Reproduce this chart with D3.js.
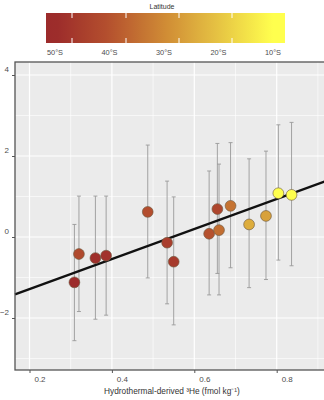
<!DOCTYPE html>
<html><head><meta charset="utf-8">
<script src="https://cdn.jsdelivr.net/npm/d3@7"></script>
<style>
html,body{margin:0;padding:0;background:#fff;overflow:hidden}
text{font-family:"Liberation Sans",Arial,sans-serif}
</style></head>
<body><svg id="c" width="324" height="400"></svg>
<script>
// ---- data ----
const helium   = [0.309,0.320,0.360,0.386,0.487,0.534,0.550,0.636,0.656,0.660,0.688,0.733,0.774,0.804,0.836];
const anomaly  = [-1.12,-0.42,-0.52,-0.46,0.62,-0.14,-0.61,0.08,0.69,0.17,0.77,0.31,0.52,1.08,1.04];
const errLow   = [-2.56,-1.84,-2.03,-1.93,-1.01,-1.65,-2.17,-1.43,-0.90,-1.43,-0.76,-1.25,-1.05,-0.57,-0.71];
const errHigh  = [0.31,1.01,1.01,1.01,2.27,1.38,0.99,1.63,2.31,1.80,2.33,1.93,2.12,2.77,2.83];
const latitude = [50,42,49,48,41,45,46,40,43,35,34,24,26,10,10];
const fitX = [0.1648,0.93];
const fitY = [-1.415,1.421];
const xTicks = [0.2,0.4,0.6,0.8];
const xMinor = [0.3,0.5,0.7,0.9];
const yTicks = [-2,0,2,4];
const yMinor = [-3,-1,1,3];
const latTicks = [50,40,30,20,10];
const latColors = ["#9c2b2b","#b5512e","#cf8a35","#e6c443","#ffff4e"];

const svg = d3.select("#c");
const L=15, R=334, T=62, B=370;
const x = d3.scaleLinear().domain([0.2,0.8]).range([29.5,276.7]);
const y = d3.scaleLinear().domain([-2,4]).range([318,75]);

// panel
svg.append("rect").attr("x",L).attr("y",T).attr("width",R-L).attr("height",B-T).attr("fill","#ebebeb");
const g = svg.append("g");
xMinor.forEach(v=>g.append("line").attr("x1",x(v)).attr("x2",x(v)).attr("y1",T).attr("y2",B).attr("stroke","#fff").attr("stroke-width",0.6));
yMinor.forEach(v=>g.append("line").attr("x1",L).attr("x2",R).attr("y1",y(v)).attr("y2",y(v)).attr("stroke","#fff").attr("stroke-width",0.6));
xTicks.forEach(v=>g.append("line").attr("x1",x(v)).attr("x2",x(v)).attr("y1",T).attr("y2",B).attr("stroke","#fff").attr("stroke-width",1.2));
yTicks.forEach(v=>g.append("line").attr("x1",L).attr("x2",R).attr("y1",y(v)).attr("y2",y(v)).attr("stroke","#fff").attr("stroke-width",1.2));

// error bars
const idx = d3.range(helium.length);
const eb = svg.append("g").attr("stroke","#9a9a9a").attr("stroke-width",0.9);
idx.forEach(i=>{
  const cx=x(helium[i]);
  eb.append("line").attr("x1",cx).attr("x2",cx).attr("y1",y(errLow[i])).attr("y2",y(errHigh[i]));
  eb.append("line").attr("x1",cx-2).attr("x2",cx+2).attr("y1",y(errLow[i])).attr("y2",y(errLow[i]));
  eb.append("line").attr("x1",cx-2).attr("x2",cx+2).attr("y1",y(errHigh[i])).attr("y2",y(errHigh[i]));
});

// regression line
svg.append("line").attr("x1",x(fitX[0])).attr("y1",y(fitY[0])).attr("x2",x(fitX[1])).attr("y2",y(fitY[1]))
  .attr("stroke","#111").attr("stroke-width",2.3);

// colour scale
const cbX = d3.scaleLinear().domain([50,10]).range([55,273]);
const col = d3.scaleLinear().domain(latTicks).range(latColors).clamp(true);

// points
idx.forEach(i=>{
  svg.append("circle").attr("cx",x(helium[i])).attr("cy",y(anomaly[i])).attr("r",5.4)
    .attr("fill",col(latitude[i])).attr("stroke","#6e5a40").attr("stroke-opacity",0.7).attr("stroke-width",0.9);
});

// panel border
svg.append("rect").attr("x",L).attr("y",T).attr("width",R-L).attr("height",B-T).attr("fill","none").attr("stroke","#555").attr("stroke-width",1.3);

// axes
const ax = svg.append("g").attr("transform",`translate(0,${B})`).call(d3.axisBottom(x).tickValues(xTicks).tickSize(3).tickFormat(d3.format(".1f")));
ax.select(".domain").remove();
ax.selectAll(".tick line").attr("stroke","#555");
ax.selectAll(".tick text").attr("dx",10).attr("y",6).attr("font-size",8).attr("fill","#4d4d4d").attr("font-family","Liberation Sans, Arial, sans-serif");
const ay = svg.append("g").attr("transform",`translate(${L},0)`).call(d3.axisLeft(y).tickValues(yTicks).tickSize(3).tickFormat(d3.format("d")));
ay.select(".domain").remove();
ay.selectAll(".tick line").attr("stroke","#555");
ay.selectAll(".tick text").attr("x",-6).attr("dy","-0.45em").attr("font-size",8).attr("fill","#4d4d4d").attr("font-family","Liberation Sans, Arial, sans-serif");

svg.append("text").attr("x",172).attr("y",394).attr("text-anchor","middle").attr("font-size",8.3).attr("fill","#333")
  .text("Hydrothermal-derived ³He (fmol kg⁻¹)");

// colour bar
const defs = svg.append("defs");
const grad = defs.append("linearGradient").attr("id","lg").attr("x1","0%").attr("x2","100%");
const bx0=46, bx1=285;
d3.range(0,1.0001,0.05).forEach(t=>{
  const px = bx0 + t*(bx1-bx0);
  grad.append("stop").attr("offset",(t*100)+"%").attr("stop-color",col(cbX.invert(px)));
});
svg.append("rect").attr("x",bx0).attr("y",13).attr("width",bx1-bx0).attr("height",30).attr("fill","url(#lg)");
[72,126,179,232].forEach(px=>{
  svg.append("line").attr("x1",px).attr("x2",px).attr("y1",13).attr("y2",18).attr("stroke","#fff").attr("stroke-width",1);
  svg.append("line").attr("x1",px).attr("x2",px).attr("y1",38).attr("y2",43).attr("stroke","#fff").attr("stroke-width",1);
});
latTicks.forEach(v=>{
  svg.append("text").attr("x",cbX(v)).attr("y",55).attr("text-anchor","middle").attr("font-size",7.4).attr("fill","#4d4d4d").text(v+"°S");
});
svg.append("text").attr("x",162).attr("y",9).attr("text-anchor","middle").attr("font-size",7).attr("fill","#333").text("Latitude");
</script></body></html>
